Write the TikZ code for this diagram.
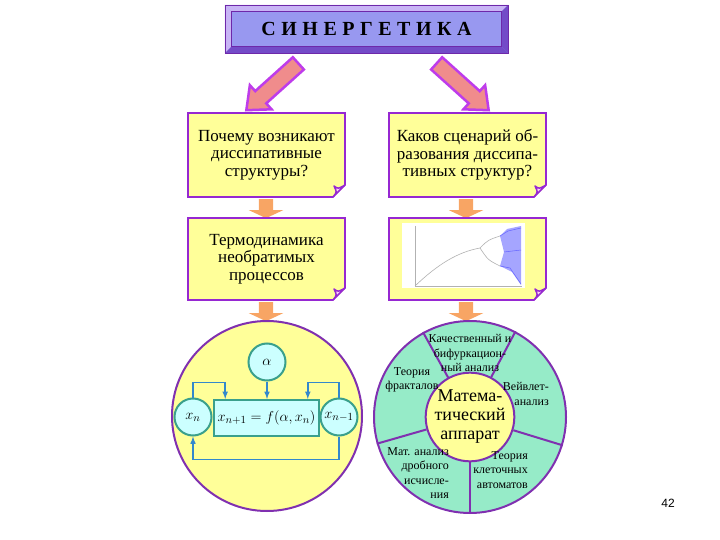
\documentclass[tikz,border=0pt]{standalone}
\usepackage{tikz}
\usepackage{xcolor}
\usepackage{fontspec}
\setmainfont{Liberation Serif}
\newfontfamily\numfont{Liberation Sans}
\usetikzlibrary{shapes.arrows}
\usetikzlibrary{arrows}
\usetikzlibrary{calc}
\definecolor{violetline}{RGB}{150,40,210}
\definecolor{notefill}{RGB}{255,255,153}
\definecolor{foldfill}{RGB}{250,205,250}
\definecolor{titleface}{RGB}{152,152,240}
\definecolor{titlelight}{RGB}{200,180,245}
\definecolor{titledark}{RGB}{115,75,200}
\definecolor{titleline}{RGB}{110,40,170}
\definecolor{bigarrow}{RGB}{240,140,140}
\definecolor{bigarrowline}{RGB}{190,60,235}
\definecolor{smallarrow}{RGB}{248,165,100}
\definecolor{ringline}{RGB}{128,48,176}
\definecolor{ringfill}{RGB}{150,235,200}
\definecolor{cellfill}{RGB}{204,255,255}
\definecolor{cellline}{RGB}{58,160,140}
\definecolor{linkblue}{RGB}{51,136,204}
\tikzstyle{titlebox} = [rectangle, fill=titleface, minimum width=283pt, minimum height=48pt,
                        font=\fontsize{20}{24}\selectfont\bfseries]
\tikzstyle{note} = [rectangle, draw=violetline, line width=2pt, fill=notefill,
                    minimum width=157pt, align=center, font=\fontsize{17}{17.5}\selectfont]
\tikzstyle{fatarrow} = [single arrow, draw=bigarrowline, line width=2.5pt, fill=bigarrow,
                        minimum height=70pt, inner sep=7pt, single arrow head extend=8pt,
                        single arrow tip angle=80]
\tikzstyle{downarrow} = [single arrow, fill=smallarrow, rotate=-90, minimum height=19pt,
                         inner sep=7pt, single arrow head extend=10pt, single arrow tip angle=130]
\tikzstyle{disc} = [circle, draw=ringline, line width=2pt, minimum size=190pt, inner sep=0pt]
\tikzstyle{cell} = [circle, draw=cellline, line width=2pt, fill=cellfill, minimum size=37pt,
                    inner sep=0pt, font=\fontsize{15}{18}\selectfont]
\tikzstyle{link} = [draw=linkblue, line width=1.5pt, -latex]
\tikzstyle{sector} = [inner sep=0pt, font=\fontsize{12}{14.5}\selectfont]
\tikzstyle{foldline} = [draw=violetline, line width=1.5pt, fill=foldfill, line join=round]
\newcommand{\curl}[1]{%
  \fill[white] ($(#1.south east)+(2,-15)$) -- ($(#1.south east)+(2,2)$) -- ($(#1.south east)+(-15,2)$) -- cycle;
  \draw[foldline] ($(#1.south east)+(-1,-13)$) .. controls ($(#1.south east)+(-8,-9)$) .. ($(#1.south east)+(-12,-12)$)
     .. controls ($(#1.south east)+(-9,-6)$) .. ($(#1.south east)+(-13,-1)$) -- cycle;}
\begin{document}
\begin{tikzpicture}[x=1pt,y=-1pt]
    \useasboundingbox (0,0) rectangle (720,540);
    % title
    \node[titlebox] (title) at (366.5,29) {\spaceskip=5.5pt\relax С И Н Е Р Г Е Т И К А};
    \fill[titlelight] (title.north west) -- (title.north east) -- ($(title.north east)+(-7,7)$) -- ($(title.north west)+(7,7)$) -- cycle;
    \fill[titlelight] (title.north west) -- ($(title.north west)+(7,7)$) -- ($(title.south west)+(7,-7)$) -- (title.south west) -- cycle;
    \fill[titledark] (title.south west) -- ($(title.south west)+(7,-7)$) -- ($(title.south east)+(-7,-7)$) -- (title.south east) -- cycle;
    \fill[titledark] (title.north east) -- (title.south east) -- ($(title.south east)+(-7,-7)$) -- ($(title.north east)+(-7,7)$) -- cycle;
    \draw[titleline] (title.north west) rectangle (title.south east);
    \draw[titleline, thick] ($(title.north west)+(7,7)$) rectangle ($(title.south east)+(-7,-7)$);
    \node[fatarrow, rotate=-138] (toleft) at (276,83.5) {};
    \node[fatarrow, rotate=-42] (toright) at (459,83.5) {};
    % small arrows between the notes
    \node[downarrow] (a1) at (266,207) {};
    \node[downarrow] (a2) at (466,207) {};
    \node[downarrow] (a3) at (266,310) {};
    \node[downarrow] (a4) at (466,310) {};
    % notes
    \node[note, minimum height=84pt] (why) at (266.5,155) {Почему возникают\\диссипативные\\структуры?};
    \node[note, minimum height=84pt] (how) [right of=why, node distance=201pt] {Каков сценарий об-\\разования диссипа-\\тивных структур?};
    \node[note, minimum height=82pt] (thermo) [below of=why, node distance=104pt] {Термодинамика\\необратимых\\процессов};
    \node[note, minimum height=82pt] (bif) [right of=thermo, node distance=201pt] {};
    \curl{why} \curl{how} \curl{thermo} \curl{bif}
    % bifurcation plot
    \fill[white] (402,223) rectangle (525,288);
    \draw[gray!60, line width=0.6pt] (415,226) -- (415,286) -- (522,286);
    \draw[gray!60, line width=0.6pt] (415,286) .. controls (438,264) and (458,252) .. (480,248);
    \draw[gray!60, line width=0.6pt] (480,248) .. controls (488,240) .. (500,236);
    \draw[gray!60, line width=0.6pt] (480,248) .. controls (488,260) .. (500,266);
    \fill[blue!50, opacity=.7] (500,236) -- (507,229) -- (521,226) -- (521,285) -- (512,272) -- (500,266) -- (504,252) -- cycle;
    \draw[blue!60, line width=0.5pt] (500,236) -- (508,231) -- (521,228) (500,266) -- (510,268) -- (521,284) (504,252) -- (521,250);
    % left disc
    \node[disc, fill=notefill] (loop) at (267,416) {};
    \node[cell] (alpha) at (267,362) {$\alpha$};
    \node[cell] (xn) at (193,417) {$x_n$};
    \node[cell] (xm) at (339,417) {$x_{n-1}$};
    \node[rectangle, draw=cellline, line width=2pt, fill=cellfill, minimum width=97pt, minimum height=36pt,
          font=\fontsize{15}{18}\selectfont] (map) at (266.5,418) {$x_{n+1}=f(\alpha,x_n)$};
    \draw[link] (alpha) -- (alpha |- map.north);
    \draw[link] (xn.north) -- ++(0,-15) -| ($(map.north west)+(12,0)$);
    \draw[link] (xm.north) -- ++(0,-15) -| ($(map.north east)+(-12,0)$);
    \draw[link] (xm.south) -- ++(0,23) -| (xn.south);
    % right disc
    \node[disc, fill=ringfill, minimum size=192pt] (wheel) at (470,417) {};
    \node[circle, draw=ringline, line width=2pt, fill=notefill, minimum size=82pt, inner sep=0pt, align=center,
          font=\fontsize{18}{19}\selectfont] (core) at (470,417) {Матема-\\тический\\аппарат};
    \foreach \a in {62,119,196,270,343}
      \draw[ringline, line width=2pt] (core.\a) -- (wheel.\a);
    \node[sector, align=center] (qual) at (470,353) {Качественный и\\бифуркацион-\\ный анализ};
    \node[sector, align=center] (fract) at (412,380) {Теория\\фракталов};
    \node[sector, align=right, anchor=east] (wave) at (549,394) {Вейвлет-\\анализ};
    \node[sector, align=right, anchor=east] (frac) at (449,473) {Мат. анализ\\дробного\\исчисле-\\ния};
    \node[sector, align=right, anchor=east] (cell) at (528,470) {Теория\\клеточных\\автоматов};
    \node[font=\numfont\fontsize{12}{14}\selectfont] (page) at (668,503) {42};
\end{tikzpicture}
\end{document}
